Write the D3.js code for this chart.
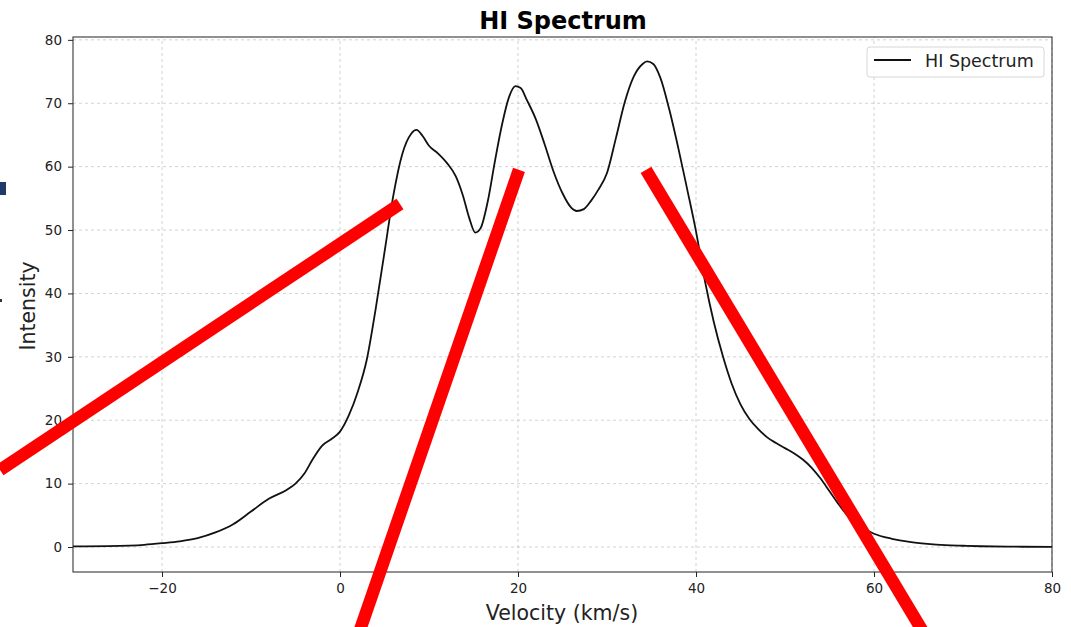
<!DOCTYPE html>
<html>
<head>
<meta charset="utf-8">
<script src="https://cdn.jsdelivr.net/npm/d3@7"></script>
<style>
body { margin: 0; background: #fff; }
text { font-family: "DejaVu Sans", sans-serif; }
</style>
</head>
<body>
<div class="chart"></div>
<script>
// HI spectrum
const velocity = [-30,-26,-22,-20,-18,-16,-14,-12,-10,-8,-6,-5,-4,-3,-2,-1,0,1,2,3,4,5,6,7,8,8.6,9.3,10,11,12,13,13.8,14.5,15.2,15.8,16.6,17.4,18.2,19,19.7,20.3,21,22,23,24,25,26,26.6,27.4,28.2,29,30,31,32,33,34,34.5,35.2,36,37,38,39,40,41,42,43,44,45,46,47,48,49,50,51,52,53,54,55,56,57,58,59,60,62,64,66,68,70,72,75,80];
const intensity = [0.1,0.15,0.35,0.6,0.9,1.4,2.3,3.6,5.6,7.6,9.0,10.0,11.6,14.0,16.0,17.0,18.2,20.8,24.5,29.5,37.5,46.5,55.5,62.0,65.2,65.8,64.8,63.3,62.1,60.6,58.5,55.5,52.0,49.6,50.3,54.5,60.8,66.6,71.0,72.7,72.4,70.5,67.5,63.5,59.2,55.8,53.5,53.0,53.3,54.6,56.3,59.0,64.5,70.2,74.2,76.2,76.6,76.2,74.0,69.0,63.0,56.5,49.8,42.0,35.5,30.2,25.8,22.5,20.2,18.6,17.3,16.4,15.6,14.8,13.8,12.5,10.8,8.8,6.8,5.0,3.7,2.8,2.1,1.3,0.8,0.5,0.3,0.2,0.12,0.06,0.03];
const xTicks = [-20, 0, 20, 40, 60, 80];
const yTicks = [0, 10, 20, 30, 40, 50, 60, 70, 80];

// red annotation strokes, in data units [v1, i1, v2, i2]
const marks = [
  [-38.2, 12.15, 6.74, 54.1],
  [20.11, 59.49, 1.47, -16.25],
  [34.38, 59.49, 66.74, -16.25]
];

const width = 1071, height = 627;
const margin = {left: 73, right: 19, top: 37, bottom: 55};

const svg = d3.select('.chart').append('svg')
  .attr('width', width).attr('height', height);

const x = d3.scaleLinear().domain([-30, 80]).range([margin.left, width - margin.right]);
const y = d3.scaleLinear().domain([-3.94, 80.45]).range([height - margin.bottom, margin.top]);

const plot = svg.append('g');

// grid
plot.append('g').selectAll('line').data(xTicks).enter().append('line')
  .attr('x1', d => x(d)).attr('x2', d => x(d))
  .attr('y1', y.range()[0]).attr('y2', y.range()[1])
  .attr('stroke', '#b0b0b0').attr('stroke-width', 0.8)
  .attr('stroke-dasharray', '3,3').attr('opacity', 0.7);
plot.append('g').selectAll('line').data(yTicks).enter().append('line')
  .attr('y1', d => y(d)).attr('y2', d => y(d))
  .attr('x1', x.range()[0]).attr('x2', x.range()[1])
  .attr('stroke', '#b0b0b0').attr('stroke-width', 0.8)
  .attr('stroke-dasharray', '3,3').attr('opacity', 0.7);

// spectrum
const pts = velocity.map((v, i) => [v, intensity[i]]);
plot.append('path')
  .datum(pts)
  .attr('fill', 'none')
  .attr('stroke', '#111')
  .attr('stroke-width', 1.8)
  .attr('d', d3.line().x(d => x(d[0])).y(d => y(d[1])).curve(d3.curveMonotoneX));

// frame
svg.append('rect')
  .attr('x', margin.left).attr('y', margin.top)
  .attr('width', width - margin.left - margin.right)
  .attr('height', height - margin.top - margin.bottom)
  .attr('fill', 'none').attr('stroke', '#222').attr('stroke-width', 1);

// axes
const xAxis = svg.append('g')
  .attr('transform', 'translate(0,' + (height - margin.bottom) + ')')
  .call(d3.axisBottom(x).tickValues(xTicks).tickSize(5).tickPadding(6)
    .tickFormat(d => d < 0 ? '\u2212' + Math.abs(d) : d));
const yAxis = svg.append('g')
  .attr('transform', 'translate(' + margin.left + ',0)')
  .call(d3.axisLeft(y).tickValues(yTicks).tickSize(5).tickPadding(6));
[xAxis, yAxis].forEach(a => {
  a.select('.domain').remove();
  a.selectAll('text').attr('font-size', 13.5).attr('fill', '#222')
    .style('font-family', '"DejaVu Sans", sans-serif');
  a.selectAll('line').attr('stroke', '#222');
});

// labels
svg.append('text').attr('x', 563).attr('y', 29)
  .attr('text-anchor', 'middle').attr('font-size', 24).attr('font-weight', 'bold')
  .text('HI Spectrum');
svg.append('text').attr('x', 562).attr('y', 620)
  .attr('text-anchor', 'middle').attr('font-size', 20.5).attr('fill', '#222')
  .text('Velocity (km/s)');
svg.append('text')
  .attr('transform', 'translate(35,306) rotate(-90)')
  .attr('text-anchor', 'middle').attr('font-size', 20.5).attr('fill', '#222')
  .text('Intensity');

// legend
const lg = svg.append('g');
lg.append('rect').attr('x', 867).attr('y', 47).attr('width', 177).attr('height', 30)
  .attr('rx', 3).attr('fill', '#fff').attr('fill-opacity', 0.85)
  .attr('stroke', '#d6d6d6');
lg.append('line').attr('x1', 874).attr('x2', 911).attr('y1', 60).attr('y2', 60)
  .attr('stroke', '#111').attr('stroke-width', 1.8);
lg.append('text').attr('x', 925).attr('y', 67).attr('font-size', 17.5).attr('fill', '#222')
  .text('HI Spectrum');

// red overlay strokes
svg.append('g').selectAll('line').data(marks).enter().append('line')
  .attr('x1', d => x(d[0])).attr('y1', d => y(d[1]))
  .attr('x2', d => x(d[2])).attr('y2', d => y(d[3]))
  .attr('stroke', '#ff0000').attr('stroke-width', 12.5);

// clipped bits at left edge
svg.append('rect').attr('x', 0).attr('y', 182).attr('width', 6).attr('height', 13).attr('fill', '#1f3a68');
svg.append('rect').attr('x', 0).attr('y', 299).attr('width', 2).attr('height', 3).attr('fill', '#333');
</script>
</body>
</html>
